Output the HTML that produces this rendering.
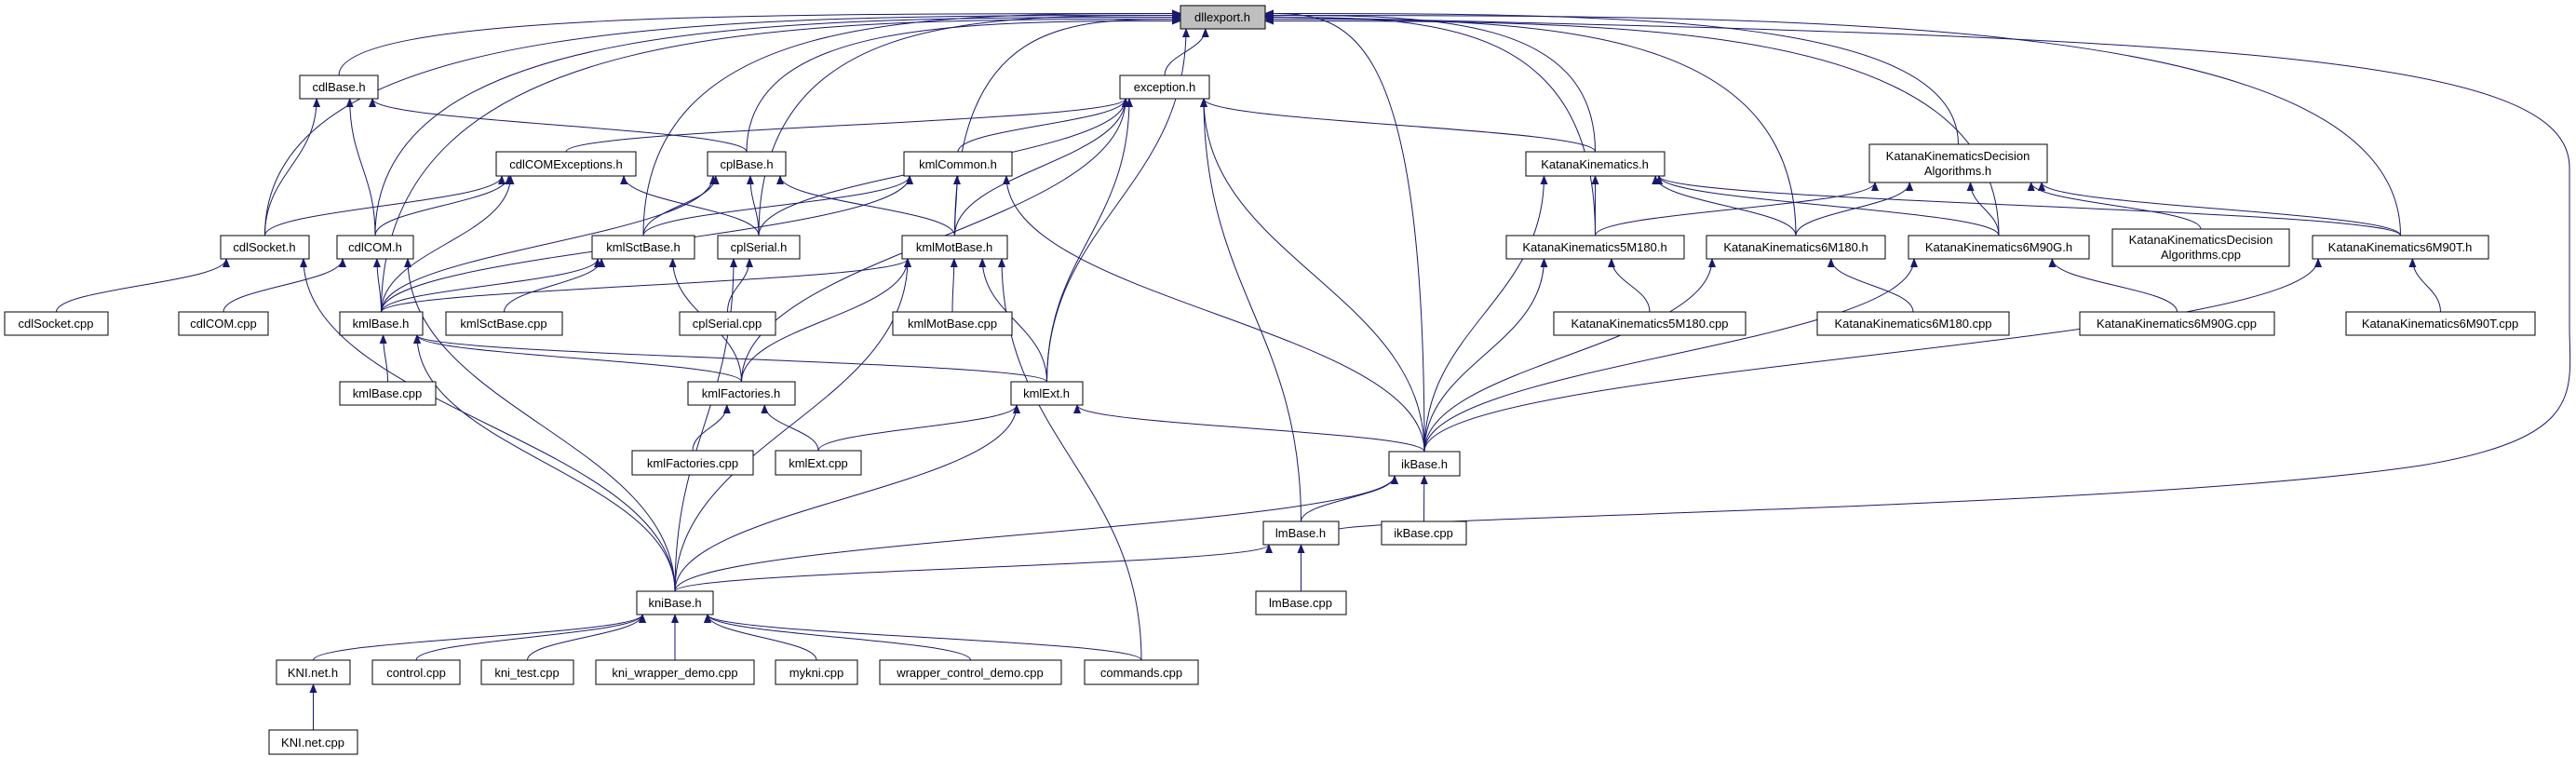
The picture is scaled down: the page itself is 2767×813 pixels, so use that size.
<!DOCTYPE html>
<html><head><meta charset="utf-8"><style>
html,body{margin:0;padding:0;background:#fff;}
svg{display:block;}
text{font-family:"Liberation Sans",sans-serif;font-size:13px;fill:#000;}
</style></head><body>
<svg id="g" width="2767" height="813" viewBox="0 0 2767 813" xmlns="http://www.w3.org/2000/svg">
<defs><marker id="a" markerWidth="10" markerHeight="8" refX="9" refY="4" orient="auto" markerUnits="userSpaceOnUse"><path d="M0,0 L10,4 L0,8 z" fill="#191970"/></marker></defs>
<g id="edges" fill="none" stroke="#191970" stroke-width="1"></g>
<g id="nodes" stroke="#000" stroke-width="1">
<rect x="1268" y="6" width="91" height="25" fill="#bfbfbf"/><text x="1313" y="23" text-anchor="middle" stroke="none">dllexport.h</text>
<rect x="322" y="81" width="84" height="25" fill="#fff"/><text x="364" y="98" text-anchor="middle" stroke="none">cdlBase.h</text>
<rect x="1203" y="81" width="96" height="25" fill="#fff"/><text x="1251" y="98" text-anchor="middle" stroke="none">exception.h</text>
<rect x="533" y="163" width="150" height="26" fill="#fff"/><text x="608" y="181" text-anchor="middle" stroke="none">cdlCOMExceptions.h</text>
<rect x="760" y="163" width="84" height="26" fill="#fff"/><text x="802" y="181" text-anchor="middle" stroke="none">cplBase.h</text>
<rect x="971" y="163" width="116" height="26" fill="#fff"/><text x="1029" y="181" text-anchor="middle" stroke="none">kmlCommon.h</text>
<rect x="237" y="253" width="95" height="25" fill="#fff"/><text x="284" y="270" text-anchor="middle" stroke="none">cdlSocket.h</text>
<rect x="362" y="253" width="82" height="25" fill="#fff"/><text x="403" y="270" text-anchor="middle" stroke="none">cdlCOM.h</text>
<rect x="636" y="253" width="110" height="25" fill="#fff"/><text x="691" y="270" text-anchor="middle" stroke="none">kmlSctBase.h</text>
<rect x="771" y="253" width="88" height="25" fill="#fff"/><text x="815" y="270" text-anchor="middle" stroke="none">cplSerial.h</text>
<rect x="969" y="253" width="113" height="25" fill="#fff"/><text x="1025" y="270" text-anchor="middle" stroke="none">kmlMotBase.h</text>
<rect x="1639" y="163" width="149" height="26" fill="#fff"/><text x="1713" y="181" text-anchor="middle" stroke="none">KatanaKinematics.h</text>
<rect x="2008" y="155" width="191" height="41" fill="#fff"/><text x="2103" y="172" text-anchor="middle" stroke="none">KatanaKinematicsDecision</text><text x="2103" y="188" text-anchor="middle" stroke="none">Algorithms.h</text>
<rect x="1618" y="253" width="191" height="25" fill="#fff"/><text x="1713" y="270" text-anchor="middle" stroke="none">KatanaKinematics5M180.h</text>
<rect x="1833" y="253" width="192" height="25" fill="#fff"/><text x="1929" y="270" text-anchor="middle" stroke="none">KatanaKinematics6M180.h</text>
<rect x="2050" y="253" width="194" height="25" fill="#fff"/><text x="2147" y="270" text-anchor="middle" stroke="none">KatanaKinematics6M90G.h</text>
<rect x="2269" y="246" width="190" height="40" fill="#fff"/><text x="2364" y="262" text-anchor="middle" stroke="none">KatanaKinematicsDecision</text><text x="2364" y="278" text-anchor="middle" stroke="none">Algorithms.cpp</text>
<rect x="2484" y="253" width="189" height="25" fill="#fff"/><text x="2578" y="270" text-anchor="middle" stroke="none">KatanaKinematics6M90T.h</text>
<rect x="5" y="335" width="111" height="25" fill="#fff"/><text x="60" y="352" text-anchor="middle" stroke="none">cdlSocket.cpp</text>
<rect x="192" y="335" width="96" height="25" fill="#fff"/><text x="240" y="352" text-anchor="middle" stroke="none">cdlCOM.cpp</text>
<rect x="365" y="335" width="89" height="25" fill="#fff"/><text x="409" y="352" text-anchor="middle" stroke="none">kmlBase.h</text>
<rect x="479" y="335" width="125" height="25" fill="#fff"/><text x="541" y="352" text-anchor="middle" stroke="none">kmlSctBase.cpp</text>
<rect x="730" y="335" width="103" height="25" fill="#fff"/><text x="781" y="352" text-anchor="middle" stroke="none">cplSerial.cpp</text>
<rect x="959" y="335" width="128" height="25" fill="#fff"/><text x="1023" y="352" text-anchor="middle" stroke="none">kmlMotBase.cpp</text>
<rect x="1669" y="335" width="206" height="25" fill="#fff"/><text x="1772" y="352" text-anchor="middle" stroke="none">KatanaKinematics5M180.cpp</text>
<rect x="1952" y="335" width="206" height="25" fill="#fff"/><text x="2055" y="352" text-anchor="middle" stroke="none">KatanaKinematics6M180.cpp</text>
<rect x="2234" y="335" width="209" height="25" fill="#fff"/><text x="2338" y="352" text-anchor="middle" stroke="none">KatanaKinematics6M90G.cpp</text>
<rect x="2520" y="335" width="203" height="25" fill="#fff"/><text x="2621" y="352" text-anchor="middle" stroke="none">KatanaKinematics6M90T.cpp</text>
<rect x="365" y="410" width="103" height="25" fill="#fff"/><text x="416" y="427" text-anchor="middle" stroke="none">kmlBase.cpp</text>
<rect x="739" y="410" width="115" height="25" fill="#fff"/><text x="796" y="427" text-anchor="middle" stroke="none">kmlFactories.h</text>
<rect x="1086" y="410" width="77" height="25" fill="#fff"/><text x="1124" y="427" text-anchor="middle" stroke="none">kmlExt.h</text>
<rect x="679" y="484" width="130" height="26" fill="#fff"/><text x="744" y="502" text-anchor="middle" stroke="none">kmlFactories.cpp</text>
<rect x="833" y="484" width="92" height="26" fill="#fff"/><text x="879" y="502" text-anchor="middle" stroke="none">kmlExt.cpp</text>
<rect x="1492" y="485" width="76" height="26" fill="#fff"/><text x="1530" y="503" text-anchor="middle" stroke="none">ikBase.h</text>
<rect x="1357" y="560" width="81" height="25" fill="#fff"/><text x="1397" y="577" text-anchor="middle" stroke="none">lmBase.h</text>
<rect x="1484" y="560" width="91" height="25" fill="#fff"/><text x="1529" y="577" text-anchor="middle" stroke="none">ikBase.cpp</text>
<rect x="684" y="635" width="82" height="25" fill="#fff"/><text x="725" y="652" text-anchor="middle" stroke="none">kniBase.h</text>
<rect x="1349" y="635" width="97" height="25" fill="#fff"/><text x="1397" y="652" text-anchor="middle" stroke="none">lmBase.cpp</text>
<rect x="297" y="709" width="79" height="26" fill="#fff"/><text x="336" y="727" text-anchor="middle" stroke="none">KNI.net.h</text>
<rect x="400" y="709" width="94" height="26" fill="#fff"/><text x="447" y="727" text-anchor="middle" stroke="none">control.cpp</text>
<rect x="517" y="709" width="99" height="26" fill="#fff"/><text x="566" y="727" text-anchor="middle" stroke="none">kni_test.cpp</text>
<rect x="640" y="709" width="170" height="26" fill="#fff"/><text x="725" y="727" text-anchor="middle" stroke="none">kni_wrapper_demo.cpp</text>
<rect x="833" y="709" width="88" height="26" fill="#fff"/><text x="877" y="727" text-anchor="middle" stroke="none">mykni.cpp</text>
<rect x="945" y="709" width="195" height="26" fill="#fff"/><text x="1042" y="727" text-anchor="middle" stroke="none">wrapper_control_demo.cpp</text>
<rect x="1165" y="709" width="122" height="26" fill="#fff"/><text x="1226" y="727" text-anchor="middle" stroke="none">commands.cpp</text>
<rect x="289" y="784" width="95" height="26" fill="#fff"/><text x="336" y="802" text-anchor="middle" stroke="none">KNI.net.cpp</text>
</g>
</svg>
<script>
var N={dll:[1268,6,1359,31],cdlBase:[322,81,406,106],exc:[1203,81,1299,106],cdlCE:[533,163,683,189],cplBase:[760,163,844,189],kmlCommon:[971,163,1087,189],cdlSocket:[237,253,332,278],cdlCOM:[362,253,444,278],kmlSct:[636,253,746,278],cplSerial:[771,253,859,278],kmlMot:[969,253,1082,278],KK:[1639,163,1788,189],KKD:[2008,155,2199,196],K5:[1618,253,1809,278],K6:[1833,253,2025,278],K6G:[2050,253,2244,278],KKDc:[2269,246,2459,286],K6T:[2484,253,2673,278],cdlSocketc:[5,335,116,360],cdlCOMc:[192,335,288,360],kmlBase:[365,335,454,360],kmlSctc:[479,335,604,360],cplSerialc:[730,335,833,360],kmlMotc:[959,335,1087,360],K5c:[1669,335,1875,360],K6c:[1952,335,2158,360],K6Gc:[2234,335,2443,360],K6Tc:[2520,335,2723,360],kmlBasec:[365,410,468,435],kmlFac:[739,410,854,435],kmlExt:[1086,410,1163,435],kmlFacc:[679,484,809,510],kmlExtc:[833,484,925,510],ik:[1492,485,1568,511],lm:[1357,560,1438,585],ikc:[1484,560,1575,585],kni:[684,635,766,660],lmc:[1349,635,1446,660],KNIh:[297,709,376,735],ctl:[400,709,494,735],kt:[517,709,616,735],kwd:[640,709,810,735],myk:[833,709,921,735],wcd:[945,709,1140,735],cmd:[1165,709,1287,735],KNIc:[289,784,384,810]};
var E={dll:['cdlBase','cdlSocket','cdlCOM','kmlBase','cplBase','kmlSct','cplSerial','exc','kmlMot','kmlExt','ik','KK','K5','K6','K6G','KKD','K6T'],
exc:['cdlCE','kmlCommon','cplSerial','kmlMot','kmlFac','kmlExt','lm','ik','KK'],
cdlBase:['cdlSocket','cdlCOM','cplBase'],cdlCE:['cdlSocket','cdlCOM','kmlBase','cplSerial'],
cplBase:['kmlBase','kmlSct','cplSerial','kmlMot'],kmlCommon:['kmlSct','kmlMot','kmlBase','ik'],
cdlSocket:['cdlSocketc','kni'],cdlCOM:['cdlCOMc','kmlBase','kni'],kmlSct:['kmlBase','kmlSctc','kmlFac'],
cplSerial:['cplSerialc','kni'],kmlMot:['kmlBase','kmlMotc','kmlFac','kmlExt','kni','cmd'],
kmlBase:['kmlBasec','kmlFac','kmlExt','kni'],kmlFac:['kmlFacc','kmlExtc'],kmlExt:['kmlExtc','kni','ik'],
ik:['kni','lm','ikc'],lm:['kni','lmc'],kni:['KNIh','ctl','kt','kwd','myk','wcd','cmd'],KNIh:['KNIc'],
KK:['K5','K6','K6G','K6T','ik'],KKD:['K5','K6','K6G','KKDc','K6T'],K5:['K5c','ik'],K6:['K6c','ik'],K6G:['K6Gc','ik'],K6T:['K6Tc','ik']};
var g=document.getElementById('edges'),s='';
function f(v){return v.toFixed(1);}
for(var p in E){E[p].forEach(function(c,i){var P=N[p],C=N[c];
 var cx=(C[0]+C[2])/2,px=(P[0]+P[2])/2,sx,sy,ex,ey,d;
 if(C[1]>P[3]+5){sx=cx;sy=C[1];
  if(p=='dll'&&cx<P[0]-150){ex=P[0];ey=(P[1]+P[3])/2+(i%5-2)*2;d='M'+f(sx)+','+sy+' C'+f(sx)+','+f(ey)+' '+f((sx+ex)/2)+','+f(ey)+' '+ex+','+f(ey);}
  else if(p=='dll'&&cx>P[2]+150){ex=P[2];ey=(P[1]+P[3])/2+(i%5-2)*2;d='M'+f(sx)+','+sy+' C'+f(sx)+','+f(ey)+' '+f((sx+ex)/2)+','+f(ey)+' '+ex+','+f(ey);}
  else{ex=Math.max(P[0]+6,Math.min(P[2]-6,px+(cx-px)*0.3));ey=P[3];var dy=(sy-ey)*0.45;
   d='M'+f(sx)+','+sy+' C'+f(sx)+','+f(sy-dy)+' '+f(ex)+','+f(ey+dy)+' '+f(ex)+','+ey;}
 }else{ // same level / child above or beside
  if(cx>px){sx=C[0];ex=P[2];}else{sx=C[2];ex=P[0];}
  sy=(C[1]+C[3])/2;ey=(P[1]+P[3])/2;
  d='M'+f(sx)+','+f(sy)+' L'+ex+','+f(ey);}
 s+='<path d="'+d+'" marker-end="url(#a)"/>';});}
// lmBase -> dllexport long right loop
s+='<path d="M1438,568 C1500,555 2300,545 2600,500 C2780,470 2760,420 2760,350 L2760,180 C2760,60 2400,40 1359,18" marker-end="url(#a)"/>';
g.innerHTML=s;
</script>
</body></html>
